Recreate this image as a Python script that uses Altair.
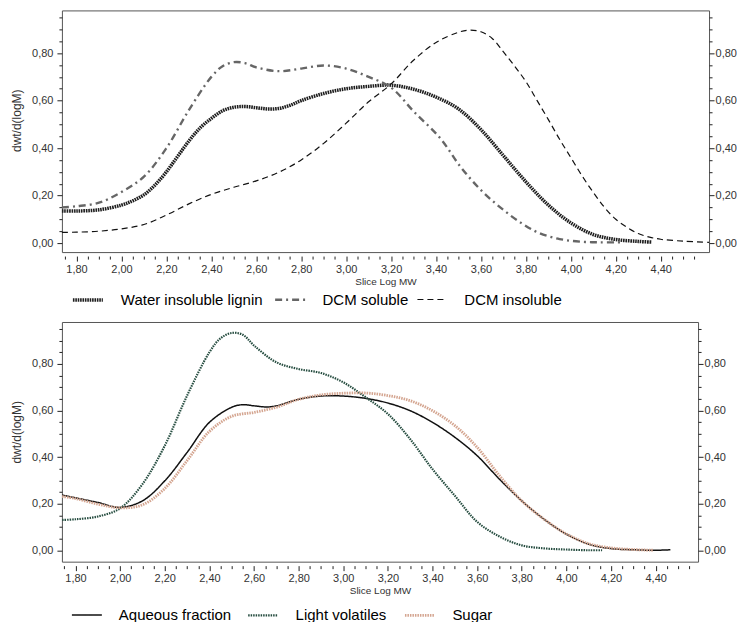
import altair as alt
import pandas as pd

# ---------------- data: top panel ----------------
top_series = ["Water insoluble lignin", "DCM soluble", "DCM insoluble"]

wil_x = [1.735, 1.80, 1.90, 2.00, 2.05, 2.10, 2.15, 2.20, 2.25, 2.30, 2.35, 2.40, 2.45, 2.50, 2.55,
         2.60, 2.65, 2.70, 2.75, 2.80, 2.90, 3.00, 3.10, 3.20, 3.30, 3.40, 3.50, 3.60, 3.70, 3.80,
         3.90, 4.00, 4.10, 4.20, 4.30, 4.36]
wil_y = [0.135, 0.135, 0.140, 0.160, 0.178, 0.203, 0.245, 0.300, 0.365, 0.430, 0.485, 0.525, 0.557, 0.572, 0.575,
         0.570, 0.565, 0.567, 0.580, 0.600, 0.630, 0.650, 0.660, 0.665, 0.648, 0.615, 0.565, 0.478, 0.368, 0.258,
         0.160, 0.085, 0.036, 0.015, 0.007, 0.004]

dsol_x = [1.735, 1.80, 1.90, 2.00, 2.10, 2.20, 2.30, 2.40, 2.45, 2.50, 2.55, 2.60, 2.70, 2.80, 2.90,
          3.00, 3.10, 3.20, 3.30, 3.42, 3.51, 3.60, 3.69, 3.78, 3.86, 3.95, 4.04, 4.13, 4.22]
dsol_y = [0.150, 0.155, 0.170, 0.215, 0.280, 0.400, 0.560, 0.700, 0.745, 0.762, 0.758, 0.740, 0.724, 0.735, 0.748,
          0.735, 0.700, 0.655, 0.555, 0.440, 0.320, 0.223, 0.147, 0.084, 0.042, 0.017, 0.006, 0.003, 0.003]

dins_x = [1.735, 1.80, 1.90, 2.00, 2.10, 2.20, 2.30, 2.40, 2.50, 2.60, 2.70, 2.80, 2.90, 3.00, 3.10,
          3.20, 3.30, 3.40, 3.50, 3.55, 3.60, 3.65, 3.70, 3.75, 3.80, 3.85, 3.90, 3.95, 4.00, 4.05,
          4.10, 4.15, 4.20, 4.25, 4.30, 4.35, 4.40, 4.50, 4.615]
dins_y = [0.045, 0.046, 0.050, 0.060, 0.078, 0.118, 0.165, 0.205, 0.235, 0.262, 0.298, 0.350, 0.420, 0.505, 0.595,
          0.670, 0.770, 0.845, 0.888, 0.897, 0.890, 0.862, 0.805, 0.745, 0.680, 0.600, 0.520, 0.437, 0.360, 0.283,
          0.213, 0.150, 0.100, 0.066, 0.040, 0.025, 0.016, 0.008, 0.003]

# ---------------- data: bottom panel ----------------
bot_series = ["Aqueous fraction", "Light volatiles", "Sugar"]

aq_x = [1.74, 1.80, 1.90, 2.00, 2.10, 2.20, 2.30, 2.40, 2.50, 2.55, 2.60, 2.66, 2.70, 2.80, 2.90,
        3.00, 3.10, 3.20, 3.30, 3.40, 3.50, 3.60, 3.70, 3.80, 3.90, 4.00, 4.10, 4.20, 4.30, 4.40, 4.466]
aq_y = [0.237, 0.225, 0.205, 0.184, 0.212, 0.298, 0.420, 0.549, 0.614, 0.625, 0.620, 0.615, 0.620, 0.648, 0.662,
        0.662, 0.652, 0.632, 0.599, 0.549, 0.485, 0.406, 0.305, 0.212, 0.133, 0.069, 0.026, 0.007, 0.002, 0.000, 0.002]

lv_x = [1.74, 1.80, 1.90, 2.00, 2.10, 2.20, 2.30, 2.40, 2.45, 2.50, 2.55, 2.60, 2.70, 2.80, 2.90,
        3.00, 3.10, 3.20, 3.30, 3.40, 3.50, 3.60, 3.70, 3.80, 3.90, 4.00, 4.10, 4.16]
lv_y = [0.130, 0.133, 0.145, 0.180, 0.284, 0.449, 0.664, 0.850, 0.910, 0.933, 0.925, 0.879, 0.807, 0.778, 0.761,
        0.721, 0.657, 0.585, 0.477, 0.348, 0.234, 0.122, 0.059, 0.021, 0.008, 0.003, 0.000, 0.000]

sg_x = [1.74, 1.80, 1.90, 2.00, 2.10, 2.20, 2.30, 2.40, 2.50, 2.60, 2.70, 2.80, 2.90, 3.00, 3.10,
        3.20, 3.30, 3.40, 3.50, 3.60, 3.70, 3.80, 3.90, 4.00, 4.10, 4.20, 4.30, 4.39]
sg_y = [0.231, 0.222, 0.198, 0.182, 0.195, 0.265, 0.385, 0.510, 0.575, 0.592, 0.614, 0.648, 0.667, 0.674, 0.675,
        0.664, 0.642, 0.599, 0.535, 0.442, 0.320, 0.212, 0.133, 0.070, 0.028, 0.010, 0.003, 0.000]

# tick positions (every 0.05)
x_ticks = [round(1.75 + 0.05 * i, 2) for i in range(57)]
y_ticks = [round(0.05 * i, 2) for i in range(20)]


def long_df(parts):
    rows = []
    for name, xs, ys in parts:
        for a, b in zip(xs, ys):
            rows.append({"Series": name, "logMW": a, "dwt": b})
    return pd.DataFrame(rows)


top_df = long_df([(top_series[0], wil_x, wil_y), (top_series[1], dsol_x, dsol_y), (top_series[2], dins_x, dins_y)])
bot_df = long_df([(bot_series[0], aq_x, aq_y), (bot_series[1], lv_x, lv_y), (bot_series[2], sg_x, sg_y)])

MAJOR = "abs(datum.value*5 - round(datum.value*5)) < 0.01"
LABEL = f"({MAJOR}) ? replace(format(datum.value, '.2f'), '.', ',') : ''"
TICK = {"condition": {"test": MAJOR, "value": 5}, "value": 3}


def x_axis():
    return alt.Axis(values=x_ticks, labelExpr=LABEL, tickSize=TICK, offset=4, domain=False,
                    title="Slice Log MW", titleFontSize=10, titleFontWeight="normal", titlePadding=2,
                    labelPadding=2, labelOverlap=False, grid=False)


left_axis = alt.Axis(values=y_ticks, labelExpr=LABEL, tickSize=TICK, domain=False, orient="left",
                     title="dwt/d(logM)", titleFontSize=12, titleFontWeight="normal", titleY=110,
                     titlePadding=8, labelPadding=4, labelOverlap=False, grid=False)
right_axis = alt.Axis(values=y_ticks, labelExpr=LABEL, tickSize=TICK, domain=False, orient="right",
                      title=None, labelPadding=1, labelOverlap=False, grid=False)

LEG_FONT = "Liberation Sans"


def legend(y, colpad):
    return alt.Legend(orient="none", legendX=9, legendY=y, direction="horizontal", title=None,
                      symbolType="stroke", symbolSize=900, labelFont=LEG_FONT, labelFontSize=15,
                      labelColor="#000", labelOffset=16, columnPadding=colpad, padding=0, labelLimit=400)


def panel(df, series, colors, dashes, widths, xdom, ydom, w, h, leg):
    xs = alt.Scale(domain=xdom, nice=False, zero=False)
    ys = alt.Scale(domain=ydom, nice=False, zero=False)
    xa = x_axis()
    lines = alt.Chart(df).mark_line(interpolate="catmull-rom").encode(
        x=alt.X("logMW:Q", scale=xs, axis=xa),
        y=alt.Y("dwt:Q", scale=ys, axis=left_axis),
        color=alt.Color("Series:N", scale=alt.Scale(domain=series, range=colors), legend=leg),
        strokeDash=alt.StrokeDash("Series:N", scale=alt.Scale(domain=series, range=dashes), legend=leg),
        strokeWidth=alt.StrokeWidth("Series:N", scale=alt.Scale(domain=series, range=widths), legend=leg),
    )
    right = alt.Chart(df).mark_line(opacity=0).encode(
        x=alt.X("logMW:Q", scale=xs, axis=xa),
        y=alt.Y("dwt:Q", scale=ys, axis=right_axis),
        detail="Series:N",
    )
    return alt.layer(lines, right).resolve_scale(y="independent").properties(width=w, height=h)


top = panel(top_df, top_series,
            ["#1e1e1e", "#666666", "#111111"],
            [[1.6, 0.8], [7, 4, 2, 4], [6, 4]],
            [3.5, 1.2, 1.8],
            [1.735, 4.615], [-0.038, 0.98], 648, 242, legend(273, 6))

bottom = panel(bot_df, bot_series,
               ["#111111", "#264d40", "#d4a590"],
               [[1, 0], [1.5, 1], [1.5, 1]],
               [1.5, 2.8, 2.6],
               [1.739, 4.59], [-0.049, 0.98], 637, 240, legend(277, 12))

chart = alt.vconcat(top, bottom, spacing=70, bounds="flush").resolve_scale(
    color="independent", strokeDash="independent", strokeWidth="independent",
    x="independent", y="independent"
).properties(
    padding={"left": 10, "top": 9, "right": 0, "bottom": 0}, background="white"
).configure_view(
    stroke="#555555", strokeWidth=1
).configure_axis(
    labelFont="Liberation Sans", labelFontSize=11, labelColor="#333333",
    titleFont="Liberation Sans", titleColor="#333333", tickColor="#222222"
)

chart.save("out.html", embed_options={"renderer": "svg", "actions": False})
